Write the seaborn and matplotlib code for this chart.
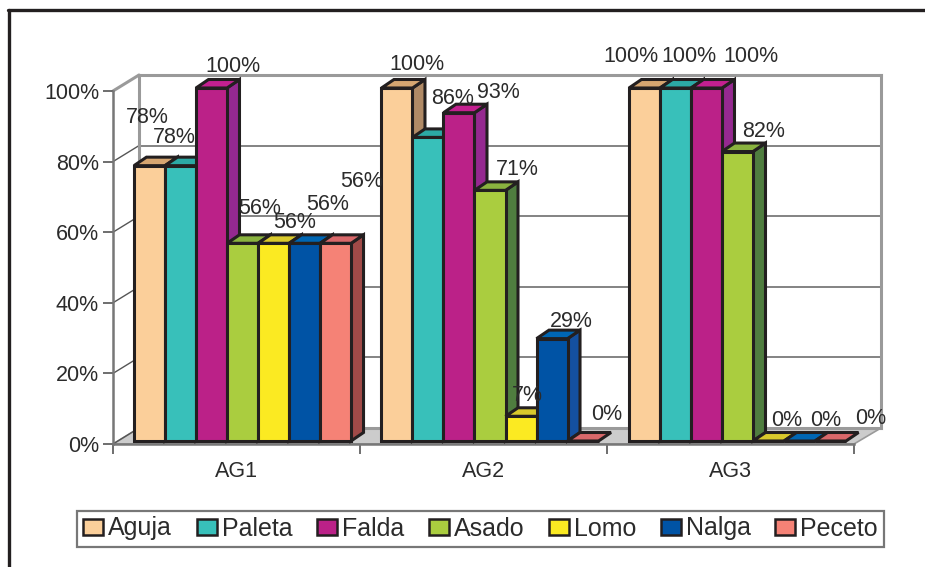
import matplotlib
matplotlib.use("Agg")
import matplotlib.pyplot as plt
from matplotlib.lines import Line2D
from matplotlib.patches import Patch, Polygon
import pandas as pd
import seaborn as sns

groups = ["AG1", "AG2", "AG3"]
cuts = ["Aguja", "Paleta", "Falda", "Asado", "Lomo", "Nalga", "Peceto"]
aguja = [78, 100, 100]
paleta = [78, 86, 100]
falda = [100, 93, 100]
asado = [56, 71, 82]
lomo = [56, 7, 0]
nalga = [56, 29, 0]
peceto = [56, 0, 0]

front_colors = ["#FBCF9A", "#38C0BA", "#BB2188", "#AACD3F", "#FBEA22", "#0053A5", "#F58276"]
top_colors = ["#D6A671", "#2CA9A5", "#C42090", "#8AB33F", "#D9C92C", "#0066B3", "#D9686A"]
side_colors = ["#B08A66", "#2A8F8C", "#952990", "#4F7D3F", "#A89A20", "#1450A0", "#A04A48"]

# Hand-placed data labels: pixel shift from the top centre of each bar.
label_shift = {
    "AG1": [(-2.5, 47.7), (-6.5, 27.7), (21.5, 21), (17.5, 35.3), (21.5, 21.3), (23.5, 39.3), (26.5, 62.3)],
    "AG2": [(20, 23), (25, 39.4), (39, 20.7), (27, 20.4), (6, 20.3), (19, 17.6), (24, 26)],
    "AG3": [(-13.5, 31), (13.5, 31), (44.5, 31), (26.5, 20.5), (18.5, 21), (26.5, 21), (40.5, 23)],
}

W, H = 925, 567
INK = "#231F20"
TEXT = "#2B2B2B"
WALL = "#9A9A9A"
LABEL_SIZE = 15.5

sns.set_style("white")
plt.rcParams["font.family"] = ["Liberation Sans", "DejaVu Sans"]
plt.rcParams["text.color"] = TEXT

table = pd.DataFrame({
    "grupo": groups * len(cuts),
    "corte": [c for c in cuts for _ in groups],
    "valor": aguja + paleta + falda + asado + lomo + nalga + peceto,
})


def fx(x):
    return x / W


def fy(y):
    return 1 - y / H


def box(left, top, right, bottom):
    return [fx(left), fy(bottom), fx(right) - fx(left), fy(top) - fy(bottom)]


fig = plt.figure(figsize=(W / 100, H / 100), dpi=100, facecolor="white")

# Back wall with the horizontal gridlines.
wall = fig.add_axes(box(139, 75, 881, 428), zorder=1)
wall.set_xlim(0, 1)
wall.set_ylim(0, 100)
wall.set_xticks([])
wall.set_yticks([20, 40, 60, 80])
wall.tick_params(left=False, labelleft=False)
wall.grid(axis="y", color="#6E6E6E", lw=1.2)
for side in wall.spines.values():
    side.set_color(WALL)
    side.set_linewidth(2.2)

# Floor and left wall, joined to the front plane.
wall.add_patch(Polygon(
    [(fx(113), fy(444)), (fx(854), fy(444)), (fx(881), fy(428)), (fx(139), fy(428))],
    closed=True, facecolor="#CCCCCC", edgecolor=WALL, lw=1.2,
    transform=fig.transFigure, clip_on=False, zorder=0,
))
for level in range(0, 101, 20):
    drop = 3.53 * (100 - level)
    is_top = level == 100
    wall.add_line(Line2D(
        [fx(113), fx(139)], [fy(91 + drop), fy(75 + drop)],
        color=WALL if is_top else "#555555", lw=2.2 if is_top else 1.0,
        transform=fig.transFigure, clip_on=False,
    ))

# Front plane: the value axis and the category axis.
front = fig.add_axes(box(113, 91, 854, 444), zorder=2)
front.patch.set_alpha(0)
front.set_xlim(-0.5, 2.5)
front.set_ylim(0, 100)
front.set_yticks(range(0, 101, 20))
front.set_yticklabels([f"{v}%" for v in range(0, 101, 20)])
front.set_xticks(range(len(groups)))
front.set_xticklabels(groups)
front.set_xticks([-0.5, 0.5, 1.5, 2.5], minor=True)
front.tick_params(axis="x", which="major", length=0, labelsize=LABEL_SIZE, pad=12, labelcolor=TEXT)
front.tick_params(axis="x", which="minor", length=7, width=1.2, color="#555555", bottom=True)
front.tick_params(axis="y", length=7, width=1.2, color="#555555", left=True, labelsize=LABEL_SIZE, pad=3, labelcolor=TEXT)
for name, side in front.spines.items():
    side.set_visible(name in ("left", "bottom"))
    side.set_color("#777777")
    side.set_linewidth(1.8)

# Bars: seaborn draws the fronts, the depth faces are added from each bar's geometry.
bars = fig.add_axes(box(118.75, 88, 861.25, 441), zorder=3)
bars.patch.set_alpha(0)
sns.barplot(
    data=table, x="grupo", y="valor", hue="corte", order=groups, hue_order=cuts,
    palette=front_colors, width=0.877, gap=0, saturation=1, legend=False, ax=bars,
    edgecolor=INK, linewidth=2.2,
)
bars.set_xlim(-0.5, 2.5)
bars.set_ylim(0, 100)
bars.set_axis_off()

unit_x = (861.25 - 118.75) / 3
unit_y = (441 - 88) / 100
depth_x = 12.5 / unit_x
depth_y = 8.5 / unit_y

rects = [p for p in bars.patches if p.get_width() > 0]
rects.sort(key=lambda p: p.get_x())
for i, rect in enumerate(rects):
    series = i % len(cuts)
    group = groups[i // len(cuts)]
    x0, x1 = rect.get_x(), rect.get_x() + rect.get_width()
    top = rect.get_height()
    z = 3 + i
    rect.set_zorder(z + 0.2)
    rect.set_clip_on(False)
    rect.set_joinstyle("miter")
    if top > 0:
        bars.add_patch(Polygon(
            [(x1, 0), (x1 + depth_x, depth_y), (x1 + depth_x, top + depth_y), (x1, top)],
            closed=True, facecolor=side_colors[series], edgecolor=INK, lw=2.2,
            clip_on=False, zorder=z,
        ))
    bars.add_patch(Polygon(
        [(x0, top), (x0 + depth_x, top + depth_y), (x1 + depth_x, top + depth_y), (x1, top)],
        closed=True, facecolor=top_colors[series], edgecolor=INK, lw=2.2,
        clip_on=False, zorder=z + 0.1,
    ))
    dx, dy = label_shift[group][series]
    bars.annotate(
        f"{top:.0f}%", xy=((x0 + x1) / 2, top), xytext=(dx * 0.72, dy * 0.72),
        textcoords="offset points", ha="center", va="center", fontsize=LABEL_SIZE,
        color=TEXT, annotation_clip=False, zorder=200,
    )

# Legend strip under the plot.
handles = [Patch(facecolor=c, edgecolor=INK, lw=1.8, label=n) for c, n in zip(front_colors, cuts)]
legend = fig.legend(
    handles=handles, ncol=len(cuts), loc="center", bbox_to_anchor=(fx(480.5), fy(528.5)),
    frameon=True, fancybox=False, edgecolor="#777777", framealpha=1, fontsize=18,
    handlelength=0.8, handleheight=0.62, handletextpad=0.2, columnspacing=0.98,
    borderpad=0.24, borderaxespad=0,
)
legend.get_frame().set_linewidth(1.6)

# Page border along the top and left.
fig.add_artist(Line2D([fx(9), fx(9)], [fy(10), fy(567)], color=INK, lw=2.4))
fig.add_artist(Line2D([fx(8), fx(925)], [fy(10), fy(10)], color=INK, lw=2.4))

fig.savefig("out.png", dpi=100)
